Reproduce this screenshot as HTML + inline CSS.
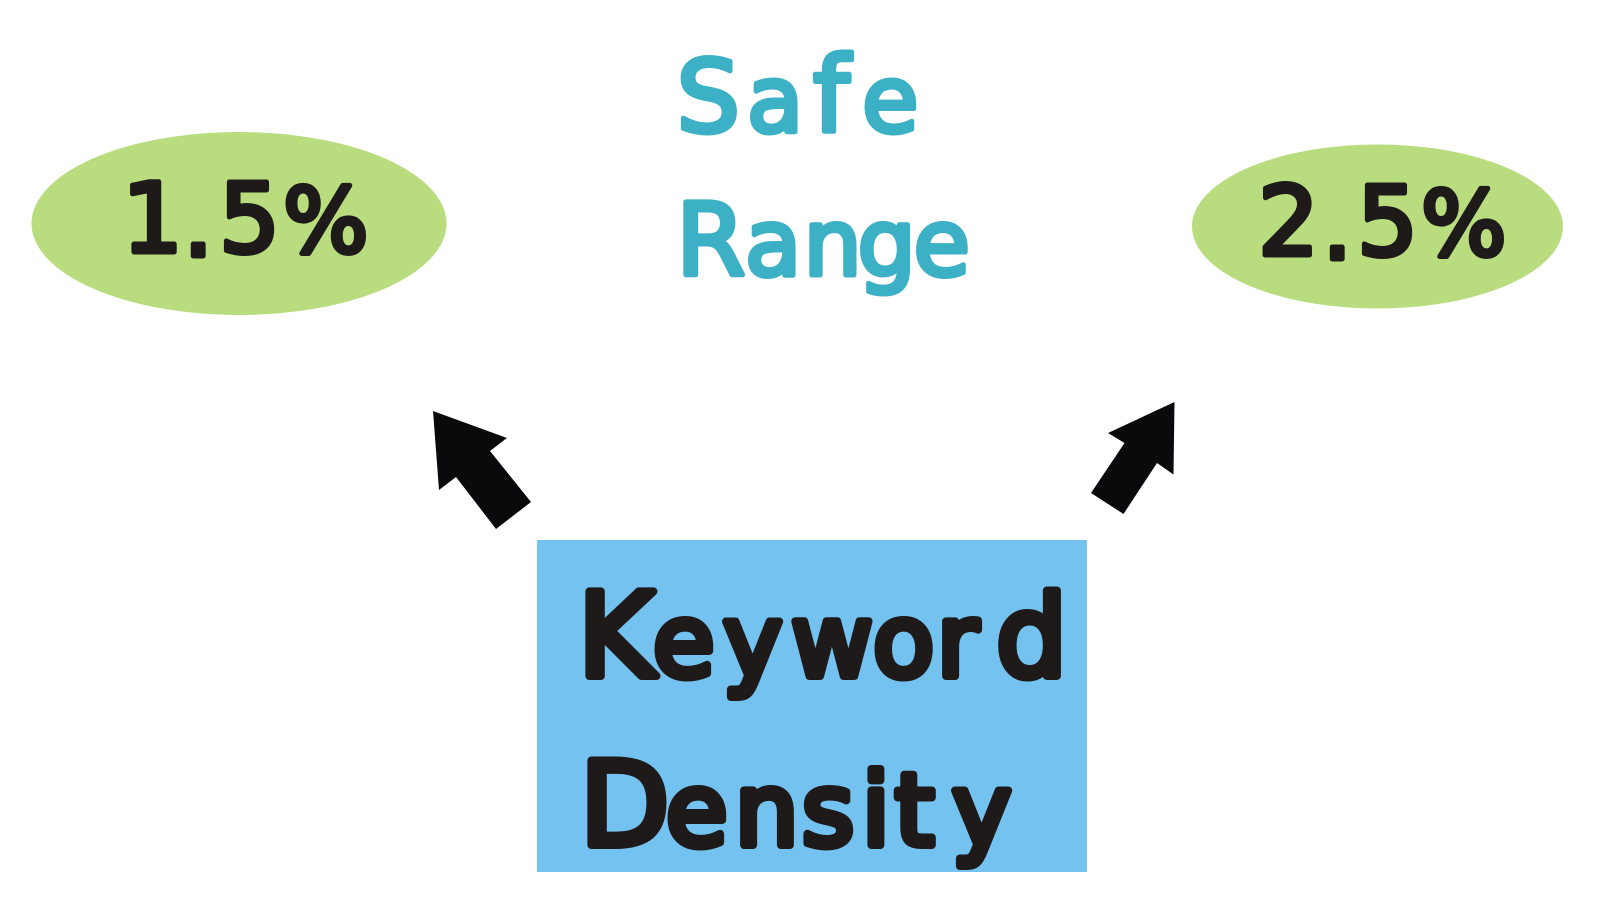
<!DOCTYPE html>
<html lang="en">
<head>
<meta charset="utf-8">
<title>Keyword Density Safe Range</title>
<style>
html,body{margin:0;padding:0;background:#fff;width:1600px;height:904px;overflow:hidden}
svg{display:block}
text{font-family:"DejaVu Sans","Liberation Sans",sans-serif;stroke-linejoin:round;stroke-linecap:round;paint-order:stroke}
.k{fill:#1e1a1a;stroke:#1e1a1a}
.t{fill:#3cb0c5;stroke:#3cb0c5}
</style>
</head>
<body>
<svg width="1600" height="904" viewBox="0 0 1600 904" xmlns="http://www.w3.org/2000/svg">
<rect width="1600" height="904" fill="#fff"/>
<ellipse cx="239" cy="223.5" rx="207.5" ry="91.5" fill="#b8dc7e"/>
<ellipse cx="1377.5" cy="226.5" rx="185.5" ry="82" fill="#b8dc7e"/>
<rect x="537" y="540" width="550" height="332" fill="#74c2ef"/>
<polygon points="433,411 507,438 490,451 531,502 496,529 456,477 439,490" fill="#0a0a0c"/>
<polygon points="1174.5,402 1173.5,474.5 1157,463 1123.5,514 1091,493 1124.5,443 1108,433" fill="#0a0a0c"/>
<text class="t" font-size="92" stroke-width="5" y="131.5" x="676.5 747 813 862"><tspan font-size="100">S</tspan>a<tspan font-size="104">f</tspan>e</text>
<text class="t" font-size="92" stroke-width="5" y="275" x="676 745 803.5 857.5 913.5"><tspan font-size="100">R</tspan>ange</text>
<text class="k" font-size="96" stroke-width="5" y="252 256 252 252" x="122 183 219 283">1.5<tspan font-size="90">%</tspan></text>
<text class="k" font-size="96" stroke-width="5" y="255 259 255 255" x="1258 1322 1357 1421">2.5<tspan font-size="90">%</tspan></text>
<text class="k" font-size="100" stroke-width="8" y="676" x="578 653 723 791 873 937 996"><tspan font-size="116">K</tspan>eywor<tspan font-size="112">d</tspan></text>
<text class="k" font-size="100" stroke-width="8" y="845" x="580 666 735 802 862 895 952"><tspan font-size="116">D</tspan>ensity</text>
</svg>
</body>
</html>
